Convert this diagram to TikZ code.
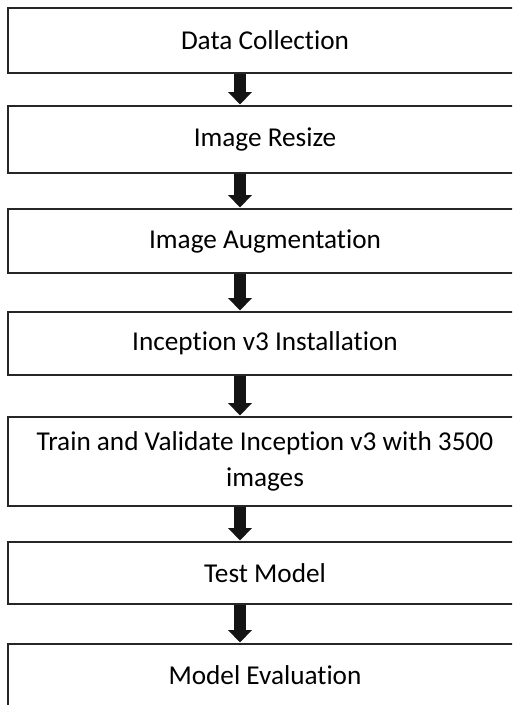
\documentclass[tikz,border=0pt]{standalone}
\usepackage{fontspec}
\setmainfont{Carlito}[Ligatures=NoCommon]
\usepackage{tikz}
\usetikzlibrary{arrows.meta}
\usetikzlibrary{positioning}
\usetikzlibrary{calc}

\begin{document}
\begin{tikzpicture}[x=0.02cm,y=-0.02cm,line join=miter,
  stage/.style={draw=black!85,line width=1.1pt,inner sep=0pt,minimum width=12cm,
    label={[align=center,inner sep=0pt,xshift=-0.86cm,font=\fontsize{15.5}{20.5}\selectfont]center:#1}},
  flow/.style={-{Triangle[width=13pt,length=7pt]},line width=6.8pt,color=black!92,shorten >=0.3pt}]
\useasboundingbox (0,0) rectangle (512,705);
\clip (0,0) rectangle (512,705);
% \draw[step=50,gray,very thin] (0,0) grid (512,705);

\draw (308,40.5) node[stage={Data Collection},minimum height=1.30cm](dc){};
\draw (308,139.5) node[stage={Image Resize},minimum height=1.34cm](ir){};
\draw (308,241) node[stage={Image Augmentation},minimum height=1.28cm](ia){};
\draw (308,343.5) node[stage={Inception v3 Installation},minimum height=1.26cm](ii){};
\draw (308,461.5) node[stage={Train and Validate Inception v3 with 3500\\images},minimum height=1.78cm](tv){};
\draw (308,573) node[stage={Test Model},minimum height=1.24cm](tm){};
\draw (308,675) node[stage={Model Evaluation},minimum height=1.24cm](me){};

% arrows sit left of the box centres
\coordinate (ax) at (240,0);

\draw[flow] (dc.south -| ax) -- (ir.north -| ax);
\draw[flow] (ir.south -| ax) -- (ia.north -| ax);
\draw[flow] (ia.south -| ax) -- (ii.north -| ax);
\draw[flow] (ii.south -| ax) -- (tv.north -| ax);
\draw[flow] (tv.south -| ax) -- (tm.north -| ax);
\draw[flow] (tm.south -| ax) -- (me.north -| ax);
\end{tikzpicture}
\end{document}
